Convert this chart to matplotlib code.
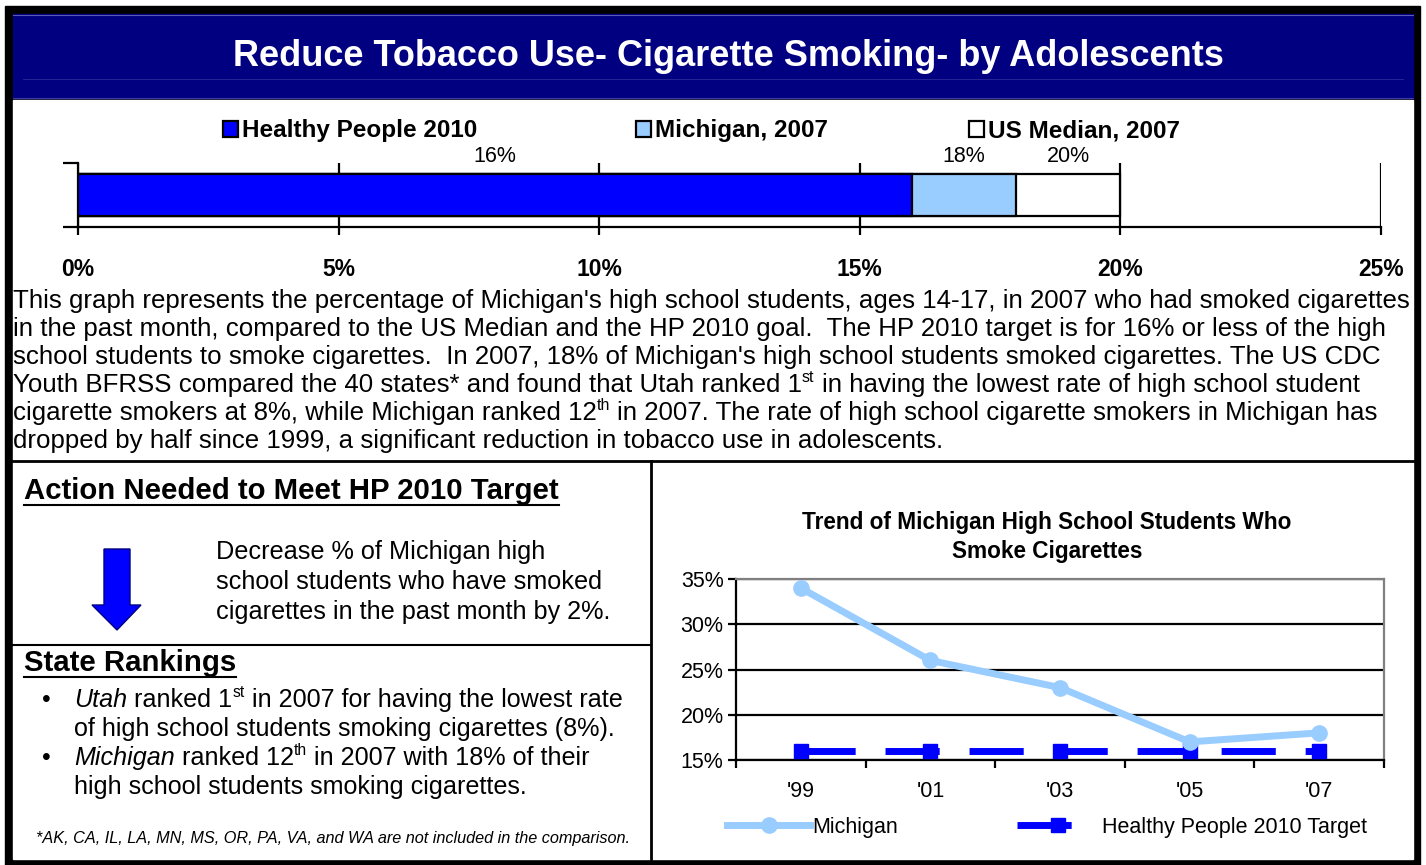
import numpy as np
import matplotlib.pyplot as plt
from matplotlib.patches import Rectangle, Polygon

plt.rcParams['font.family'] = ['Liberation Sans', 'DejaVu Sans']

# top bar chart data
bar_labels = ['Healthy People 2010', 'Michigan, 2007', 'US Median, 2007']
bar_values = [16, 18, 20]
bar_colors = ['#0000FF', '#99CCFF', '#FFFFFF']
bar_ticks = [0, 5, 10, 15, 20, 25]

# trend chart data
years = ["'99", "'01", "'03", "'05", "'07"]
michigan = [34, 26, 23, 17, 18]
hp_target = [16, 16, 16, 16, 16]
trend_ticks = [15, 20, 25, 30, 35]

title = 'Reduce Tobacco Use- Cigarette Smoking- by Adolescents'
# each line is a list of (text, style) pieces; style '' / 'it' / 'sup'
paragraph = [
    [("This graph represents the percentage of Michigan's high school students, ages 14-17, in 2007 who had smoked cigarettes", '')],
    [("in the past month, compared to the US Median and the HP 2010 goal.  The HP 2010 target is for 16% or less of the high", '')],
    [("school students to smoke cigarettes.  In 2007, 18% of Michigan's high school students smoked cigarettes. The US CDC", '')],
    [("Youth BFRSS compared the 40 states* and found that Utah ranked 1", ''), ('st', 'sup'),
     (" in having the lowest rate of high school student", '')],
    [("cigarette smokers at 8%, while Michigan ranked 12", ''), ('th', 'sup'),
     (" in 2007. The rate of high school cigarette smokers in Michigan has", '')],
    [("dropped by half since 1999, a significant reduction in tobacco use in adolescents.", '')],
]
action_lines = ['Decrease % of Michigan high',
                'school students who have smoked',
                'cigarettes in the past month by 2%.']
bullets = [
    [[('Utah', 'it'), (' ranked 1', ''), ('st', 'sup'), (' in 2007 for having the lowest rate', '')],
     [('of high school students smoking cigarettes (8%).', '')]],
    [[('Michigan', 'it'), (' ranked 12', ''), ('th', 'sup'), (' in 2007 with 18% of their', '')],
     [('high school students smoking cigarettes.', '')]],
]
footnote = '*AK, CA, IL, LA, MN, MS, OR, PA, VA, and WA are not included in the comparison.'

W, H = 1426, 865
fig = plt.figure(figsize=(W / 100, H / 100), dpi=100)
renderer = fig.canvas.get_renderer()


def box(x0, y0, x1, y1):
    return fig.add_axes([x0 / W, 1 - y1 / H, (x1 - x0) / W, (y1 - y0) / H])


# page background, frame and title band
bg = box(0, 0, W, H)
bg.set_xlim(0, W)
bg.set_ylim(H, 0)
bg.axis('off')
bg.add_patch(Rectangle((5, 6), 1415, 859, color='black'))
bg.add_patch(Rectangle((13, 100), 1400, 759, color='white'))
bg.add_patch(Rectangle((13, 14), 1400, 84, color='#000080'))
bg.plot([13, 1413], [14.5, 14.5], color='#5a5ab4', lw=0.8)
bg.plot([23, 1403], [79, 79], color='#2a2a9a', lw=0.6)
bg.plot([13, 1413], [97.5, 97.5], color='#3a3aa8', lw=0.8)
bg.text(728, 57, title, color='white', fontsize=26, fontweight='bold',
        ha='center', va='center')

# separators
bg.plot([13, 1413], [461, 461], color='black', lw=2)
bg.plot([651, 651], [461, 859], color='black', lw=2)
bg.plot([13, 651], [645, 645], color='black', lw=1.5)


def width_px(t):
    return t.get_window_extent(renderer).width


def space_px(size):
    a = bg.text(0, 400, 'x x', fontsize=size)
    b = bg.text(0, 400, 'xx', fontsize=size)
    w = width_px(a) - width_px(b)
    a.remove()
    b.remove()
    return w


def rich_line(x, y, pieces, size):
    space = space_px(size)
    cur = x
    for s, style in pieces:
        if s.startswith(' '):
            cur += space
            s = s.lstrip()
        if style == 'sup':
            t = bg.text(cur, y - size * 0.42, s, fontsize=size * 0.62,
                        ha='left', va='center')
        else:
            t = bg.text(cur, y, s, fontsize=size, ha='left', va='center',
                        style='italic' if style == 'it' else 'normal')
        cur += width_px(t)


# paragraph
for i, pieces in enumerate(paragraph):
    rich_line(13, 301 + i * 28, pieces, 18.6)


def heading(x, y, s):
    t = bg.text(x, y, s, fontsize=21.2, fontweight='bold', ha='left', va='center')
    bb = t.get_window_extent(renderer)
    bg.plot([bb.x0, bb.x1], [y + 14, y + 14], color='black', lw=1.5)


heading(24, 491, 'Action Needed to Meet HP 2010 Target')
bg.add_patch(Polygon([(104, 549), (130, 549), (130, 605), (141, 605), (117, 630),
                      (92, 605), (104, 605)], closed=True, facecolor='#0000FF',
                     edgecolor='#000080', lw=1))
for i, line in enumerate(action_lines):
    bg.text(216, 552 + i * 30, line, fontsize=18.2, ha='left', va='center')

heading(24, 663, 'State Rankings')
y = 700
for item in bullets:
    bg.text(42, y, '\u2022', fontsize=18, ha='left', va='center')
    for pieces in item:
        rich_line(74, y, pieces, 18.1)
        y += 29
bg.text(36, 838, footnote, fontsize=11.7, style='italic', ha='left', va='center')

# top horizontal bar chart
ax = box(78, 163, 1381, 227)
ax.set_facecolor('none')
handles = {}
for lab, v, c in sorted(zip(bar_labels, bar_values, bar_colors), key=lambda r: -r[1]):
    handles[lab] = ax.barh(0, v, height=0.66, color=c, edgecolor='black', lw=1.6, zorder=3)
ax.set_xlim(bar_ticks[0], bar_ticks[-1])
ax.set_ylim(-0.5, 0.5)
ax.set_xticks(bar_ticks)
ax.set_xticklabels([f'{t}%' for t in bar_ticks], fontsize=16.5, fontweight='bold')
ax.set_yticks([-0.5, 0.5])
ax.set_yticklabels([])
ax.tick_params(axis='x', direction='out', length=6, width=1.6, pad=16)
ax.tick_params(axis='y', direction='out', length=11, width=1.6)
ax.xaxis.grid(True, color='black', lw=1.6, zorder=1)
ax.set_axisbelow(True)
for s in ['top', 'right']:
    ax.spines[s].set_visible(False)
for s in ['left', 'bottom']:
    ax.spines[s].set_linewidth(1.6)
prev = 0
for v in bar_values:
    ax.annotate(f'{v}%', xy=((prev + v) / 2, 1), xycoords=('data', 'axes fraction'),
                xytext=(0, -3), textcoords='offset points', ha='center', va='bottom',
                fontsize=15.5)
    prev = v
for lab, x0 in zip(bar_labels, [223, 636, 969]):
    fig.legend(handles=[handles[lab]], labels=[lab], loc='center left',
               bbox_to_anchor=(x0 / W, 1 - 131 / H), frameon=False, borderpad=0,
               borderaxespad=0, handlelength=0.6, handleheight=0.6,
               handletextpad=0.2, prop={'weight': 'bold', 'size': 17.5})

# trend line chart
bg.text(1047, 537, 'Trend of Michigan High School Students Who\nSmoke Cigarettes',
        ha='center', va='center', fontsize=16.3, fontweight='bold', linespacing=1.3)
ax2 = box(736, 579, 1384, 760)
ax2.set_facecolor('none')
x = np.arange(len(years))
l1, = ax2.plot(x, michigan, color='#99CCFF', lw=5, marker='o', ms=11,
               label='Michigan', zorder=4)
l2, = ax2.plot(x, hp_target, color='#0000FF', lw=5, marker='s', ms=10,
               dashes=(7.8, 4.3), label='Healthy People 2010 Target', zorder=3)
ax2.set_xlim(-0.5, len(years) - 0.5)
ax2.set_ylim(trend_ticks[0], trend_ticks[-1])
ax2.set_yticks(trend_ticks)
ax2.set_yticklabels([f'{t}%' for t in trend_ticks], fontsize=15.5)
ax2.set_xticks(np.arange(len(years) + 1) - 0.5)
ax2.set_xticklabels([])
ax2.set_xticks(x, minor=True)
ax2.set_xticklabels(years, minor=True, fontsize=15.5)
ax2.tick_params(axis='x', which='major', direction='out', length=6, width=1.6)
ax2.tick_params(axis='x', which='minor', length=0, pad=15)
ax2.tick_params(axis='y', direction='out', length=6, width=1.6, pad=3)
ax2.yaxis.grid(True, color='black', lw=1.6)
ax2.set_axisbelow(True)
for s in ['left', 'bottom']:
    ax2.spines[s].set_linewidth(1.6)
for s in ['top', 'right']:
    ax2.spines[s].set_color('#808080')
    ax2.spines[s].set_linewidth(1.6)
fig.legend(handles=[l1, l2], loc='center', bbox_to_anchor=(1047 / W, 1 - 827 / H),
           ncol=2, frameon=False, fontsize=15.5, handlelength=3.85, handletextpad=0.1,
           columnspacing=5.5, numpoints=1)

fig.savefig('out.png', dpi=100)
